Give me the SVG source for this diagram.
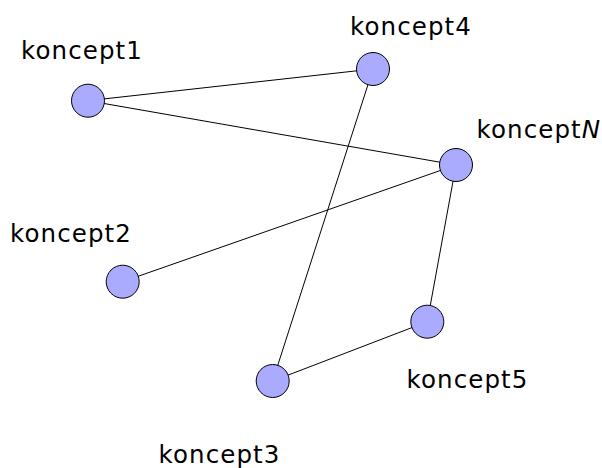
<svg xmlns="http://www.w3.org/2000/svg" width="602" height="468" viewBox="0 0 602 468">
  <style>
    .node { fill: #aaaaff; stroke: #000; stroke-width: 1; }
    .edge { stroke: #000; stroke-width: 1; fill: none; }
    .label { font-family: "DejaVu Sans", sans-serif; font-size: 24.5px; letter-spacing: 1.1px; fill: #000; }
  </style>
  <rect width="602" height="468" fill="#fff"/>
  <g id="connectors">
    <line class="edge" x1="88" y1="100.7" x2="373" y2="69"/>
    <line class="edge" x1="88" y1="100.7" x2="456" y2="165"/>
    <line class="edge" x1="122.7" y1="281.7" x2="456" y2="165"/>
    <line class="edge" x1="373" y1="69" x2="272.7" y2="381"/>
    <line class="edge" x1="456" y1="165" x2="427.3" y2="321.7"/>
    <line class="edge" x1="427.3" y1="321.7" x2="272.7" y2="381"/>
  </g>
  <g id="koncept1">
    <circle class="node" cx="88" cy="100.7" r="16.5"/>
    <text class="label" x="21" y="58.5">koncept1</text>
  </g>
  <g id="koncept4">
    <circle class="node" cx="373" cy="69" r="16.5"/>
    <text class="label" x="350" y="35">koncept4</text>
  </g>
  <g id="konceptN">
    <circle class="node" cx="456" cy="165" r="16.5"/>
    <text class="label" x="476.5" y="138.3">koncept<tspan font-style="italic">N</tspan></text>
  </g>
  <g id="koncept2">
    <circle class="node" cx="122.7" cy="281.7" r="16.5"/>
    <text class="label" x="10" y="241.7">koncept2</text>
  </g>
  <g id="koncept5">
    <circle class="node" cx="427.3" cy="321.7" r="16.5"/>
    <text class="label" x="406.5" y="387.7">koncept5</text>
  </g>
  <g id="koncept3">
    <circle class="node" cx="272.7" cy="381" r="16.5"/>
    <text class="label" x="158.5" y="463">koncept3</text>
  </g>
</svg>
